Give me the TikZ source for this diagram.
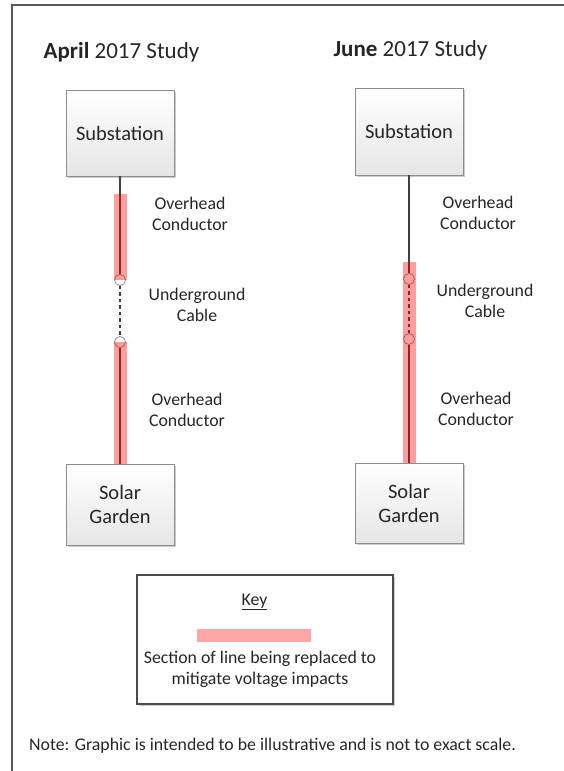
\documentclass[tikz,border=0pt]{standalone}
\usepackage{fontspec}
\setmainfont{Carlito}
\usetikzlibrary{shadows}
\definecolor{txt}{HTML}{262626}
\definecolor{wirec}{HTML}{404040}
\definecolor{keyred}{HTML}{FFA6A6}
\begin{document}
\begin{tikzpicture}[x=1pt,y=-1pt,
  every node/.style={text=txt},
  box/.style={draw=black!45, line width=0.8pt, top color=white, bottom color=black!10,
    minimum width=108pt, inner sep=0pt, align=center, font=\fontsize{20.5}{24}\selectfont,
    drop shadow={shadow xshift=1.5pt, shadow yshift=-1.5pt, fill=black, opacity=0.2}},
  lbl/.style={align=center, font=\fontsize{17.8}{21}\selectfont, inner sep=0pt},
  ttl/.style={font=\fontsize{23}{26}\selectfont, inner sep=0pt},
  wire/.style={draw=wirec, line width=2.4pt},
  ugwire/.style={draw=wirec, line width=2.4pt, dash pattern=on 3.5pt off 3pt},
  joint/.style={circle, draw=black!50, fill=white, line width=0.7pt, minimum size=11pt, inner sep=0pt},
  band/.style={fill=red, fill opacity=0.38, draw=none}]
\useasboundingbox (0,0) rectangle (564,771);
% frame
\draw[black!65, line width=2pt] (12,771) -- (12,5) -- (564,5);

% titles
\node[ttl] (t1) at (121.5,52) {\textbf{April} 2017 Study};
\node[ttl] (t2) at (410.5,50) {\textbf{June} 2017 Study};

% left column
\node[box, minimum height=86pt] (sub1) at (120,133) {Substation};
\node[box, minimum height=81pt] (sol1) at (120,504.5) {Solar\\Garden};
\node[joint] (a1) at (120,280) {};
\node[joint] (a2) at (120,342) {};
\draw[wire] (sub1.south) -- (a1.north);
\draw[ugwire] (a1.south) -- (a2.north);
\draw[wire] (a2.south) -- (sol1.north);
\fill[band] (113.5,194) rectangle (126.5,280);
\fill[band] (113.5,342) rectangle (126.5,464);
\node[lbl] (l1) at (190,214) {Overhead\\Conductor};
\node[lbl] (l2) at (197,305) {Underground\\Cable};
\node[lbl] (l3) at (187,410) {Overhead\\Conductor};

% right column
\node[box, minimum height=87pt] (sub2) at (409,131.5) {Substation};
\node[box, minimum height=80pt] (sol2) at (409,503) {Solar\\Garden};
\node[joint] (b1) at (409,279) {};
\node[joint] (b2) at (409,339) {};
\draw[wire] (sub2.south) -- (b1.north);
\draw[ugwire] (b1.south) -- (b2.north);
\draw[wire] (b2.south) -- (sol2.north);
\fill[band] (402.5,262) rectangle (415.5,463);
\node[lbl] (r1) at (478,212.5) {Overhead\\Conductor};
\node[lbl] (r2) at (485,301) {Underground\\Cable};
\node[lbl] (r3) at (476,409) {Overhead\\Conductor};

% key
\node[draw=black!70, line width=1.8pt, fill=white, minimum width=256pt, minimum height=129pt, inner sep=0pt,
  drop shadow={shadow xshift=1.5pt, shadow yshift=-1.5pt, fill=black, opacity=0.2}] (key) at (265,639.5) {};
\node[lbl] (keyt) at (254.5,602) {\underline{Key}};
\fill[keyred] (197,629) rectangle (311,642);
\node[lbl] (keyd) at (260,669.5) {Section of line being replaced to\\mitigate voltage impacts};

% note
\node[lbl, anchor=west] (note) at (29,746) {Note: Graphic is intended to be illustrative and is not to exact scale.};
\end{tikzpicture}
\end{document}
